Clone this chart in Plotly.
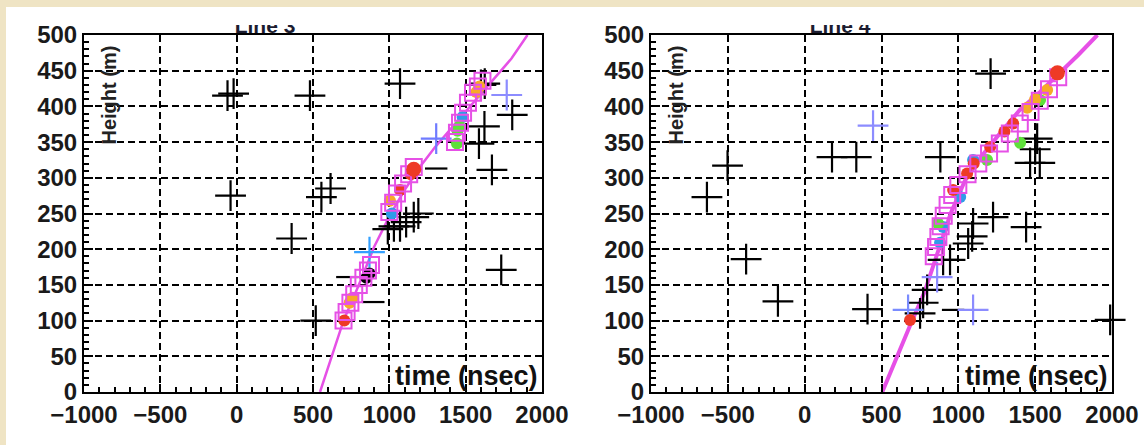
import plotly.graph_objects as go

W, H = 1144, 445

# ---------------- Data: Line 3 (left panel) ----------------
noise_t3 = [-60, -20, 480, 1070, -40, 555, 615, 360, 518, 1733, 1672, 1623, 1805, 1587, 1600, 1625,
            990, 1030, 1070, 1110, 1160, 1190]
noise_h3 = [415, 418, 415, 432, 275, 273, 285, 215, 100, 171, 311, 372, 388, 348, 430, 432,
            228, 232, 232, 238, 245, 250]
dash_t3 = [1307, 895, 725]
dash_h3 = [313, 126, 161]
blue_t3 = [870, 1307, 1769]
blue_h3 = [196, 355, 416]
blue_c3 = ["#33a0ff", "#6f7bff", "#8c8cff"]
sq_t3 = [700, 720, 745, 770, 800, 830, 860, 880, 1000, 1025, 1050, 1090, 1130, 1160,
         1430, 1443, 1463, 1483, 1515, 1548, 1580, 1610]
sq_h3 = [100, 112, 125, 137, 150, 160, 170, 178, 252, 265, 278, 292, 305, 315,
         350, 363, 377, 391, 405, 419, 428, 436]
red_t3 = [705, 1070, 1140, 1160]
red_h3 = [100, 283, 305, 312]
orange_t3 = [740, 760, 1004, 1570, 1590]
orange_h3 = [125, 132, 268, 420, 428]
green_t3 = [1443, 1447, 1460]
green_h3 = [348, 366, 372]
cblue_t3 = [1017, 1480]
cblue_h3 = [250, 385]
black_t3 = [850, 870]
black_h3 = [160, 166]
fit_t3 = [546, 700, 800, 900, 1000, 1100, 1200, 1300, 1400, 1500, 1600, 1700, 1800, 1905]
fit_h3 = [0, 100, 150, 203, 246, 283, 315, 343, 368, 393, 418, 443, 467, 500]

# ---------------- Data: Line 4 (right panel) ----------------
noise_t4 = [-636, -502, -381, -174, 178, 336, 409, 883, 1210, 1441, 1467, 1530, 1500, 1513,
            1096, 1226, 1064, 1090, 901, 946, 797, 771, 751, 1988]
noise_h4 = [273, 317, 186, 127, 329, 329, 116, 329, 446, 231, 321, 321, 340, 355,
            236, 245, 208, 218, 185, 185, 143, 125, 110, 101]
dash_t4 = [966]
dash_h4 = [115]
blue_t4 = [445, 1096, 862, 673]
blue_h4 = [373, 115, 161, 115]
blue_c4 = ["#8c8cff", "#8c8cff", "#8c8cff", "#7a8cff"]
sq_t4 = [840, 855, 870, 885, 905, 930, 960, 1000, 1060, 1130, 1200, 1270, 1335, 1400,
         1470, 1530, 1590, 1650]
sq_h4 = [190, 203, 217, 232, 247, 262, 276, 290, 305, 320, 334, 348, 362, 376,
         392, 408, 424, 441]
red_t4 = [686, 966, 1057, 1100, 1207, 1300, 1357, 1645]
red_h4 = [101, 283, 306, 320, 343, 365, 376, 447]
orange_t4 = [1448, 1500, 1578]
orange_h4 = [398, 410, 423]
green_t4 = [868, 1187, 1402, 1532]
green_h4 = [236, 325, 349, 409]
cblue_t4 = [881, 901, 1012, 1096]
cblue_h4 = [209, 231, 273, 325]
fit_t4 = [505, 600, 686, 780, 850, 950, 1045, 1150, 1270, 1400, 1530, 1650, 1780, 1905]
fit_h4 = [0, 50, 93, 140, 185, 250, 297, 330, 362, 395, 420, 445, 472, 500]

titles = ["Line 3", "Line 4"]
x_range = [-1000, 2000]
y_range = [0, 500]
x_tick_step = 500
y_tick_step = 50

MAG = "#e650e6"
FONT = "Liberation Sans"

panels = [
    dict(xd=(84, 542), td=(222, 308), nt=noise_t3, nh=noise_h3, dt=dash_t3, dh=dash_h3,
         bt=blue_t3, bh=blue_h3, bc=blue_c3, st=sq_t3, sh=sq_h3,
         rt=red_t3, rh=red_h3, ot=orange_t3, oh=orange_h3, gt=green_t3, gh=green_h3,
         ct=cblue_t3, ch=cblue_h3, kt=black_t3, kh=black_h3, ft=fit_t3, fh=fit_h3, fw=2.5),
    dict(xd=(651, 1112), td=(797, 883), nt=noise_t4, nh=noise_h4, dt=dash_t4, dh=dash_h4,
         bt=blue_t4, bh=blue_h4, bc=blue_c4, st=sq_t4, sh=sq_h4,
         rt=red_t4, rh=red_h4, ot=orange_t4, oh=orange_h4, gt=green_t4, gh=green_h4,
         ct=cblue_t4, ch=cblue_h4, kt=[], kh=[], ft=fit_t4, fh=fit_h4, fw=4),
]

fig = go.Figure()
Y_TOP, Y_BOT = 35, 392
annotations = []
layout_axes = {}

axis_common = dict(showline=True, linecolor="black", linewidth=2, mirror=True,
                   showgrid=True, gridcolor="black", gridwidth=1.8, griddash="7px,4px",
                   zeroline=False, ticks="inside", tickcolor="black", tickwidth=2,
                   automargin=False, fixedrange=True,
                   tickfont=dict(family=FONT, size=24, color="#1a1a1a", weight="bold"))

for i, p in enumerate(panels):
    n = 2 * i + 1
    xa, ya = ("x", "y") if n == 1 else ("x%d" % n, "y%d" % n)
    ta, tya = "x%d" % (n + 1), "y%d" % (n + 1)
    fig.add_trace(go.Scatter(x=p["ft"], y=p["fh"], mode="lines",
                             line=dict(color=MAG, width=p["fw"]), xaxis=xa, yaxis=ya))
    fig.add_trace(go.Scatter(x=p["nt"], y=p["nh"], mode="markers", cliponaxis=False,
                             marker=dict(symbol="cross-thin", size=22, color="black",
                                         line=dict(color="black", width=2.2)),
                             xaxis=xa, yaxis=ya))
    fig.add_trace(go.Scatter(x=p["dt"], y=p["dh"], mode="markers",
                             marker=dict(symbol="line-ew", size=16, color="black",
                                         line=dict(color="black", width=2.2)),
                             xaxis=xa, yaxis=ya))
    fig.add_trace(go.Scatter(x=p["bt"], y=p["bh"], mode="markers",
                             marker=dict(symbol="cross-thin", size=22, color=p["bc"],
                                         line=dict(color=p["bc"], width=2.2)),
                             xaxis=xa, yaxis=ya))
    for tt, hh, col in [(p["ct"], p["ch"], "#2f9be8"), (p["gt"], p["gh"], "#5ee03a"),
                        (p["ot"], p["oh"], "#f7a928"), (p["kt"], p["kh"], "black"),
                        (p["rt"], p["rh"], "#ee3a26")]:
        if tt:
            fig.add_trace(go.Scatter(x=tt, y=hh, mode="markers",
                                     marker=dict(symbol="circle", size=12, color=col),
                                     xaxis=xa, yaxis=ya))
    fig.add_trace(go.Scatter(x=p["st"], y=p["sh"], mode="markers",
                             marker=dict(symbol="square-open", size=16, color=MAG,
                                         line=dict(color=MAG, width=2)),
                             xaxis=xa, yaxis=ya))
    fig.add_trace(go.Scatter(x=[p["rt"][-1]], y=[p["rh"][-1]], mode="markers",
                             marker=dict(symbol="circle", size=15, color="#ee3a26"),
                             xaxis=xa, yaxis=ya))
    # title, clipped at its top like the reference (small text subplot)
    fig.add_trace(go.Scatter(x=[0.5], y=[0.7], mode="text", text=["<b>%s</b>" % titles[i]],
                             textposition="middle center", cliponaxis=True,
                             textfont=dict(family=FONT, size=21, color="#1c1c30"),
                             xaxis=ta, yaxis=tya))

    x0, x1 = p["xd"]
    t0, t1 = p["td"]
    xkey = "xaxis" if n == 1 else "xaxis%d" % n
    ykey = "yaxis" if n == 1 else "yaxis%d" % n
    layout_axes[xkey] = dict(axis_common, domain=[x0 / W, x1 / W], range=x_range,
                             tickmode="linear", tick0=x_range[0], dtick=x_tick_step, ticklen=8,
                             minor=dict(ticks="inside", dtick=100, ticklen=5, tickcolor="black",
                                        tickwidth=1.5, showgrid=False),
                             anchor=ya)
    layout_axes[ykey] = dict(axis_common, domain=[1 - Y_BOT / H, 1 - Y_TOP / H], range=y_range,
                             tickmode="linear", tick0=0, dtick=y_tick_step, ticklen=9,
                             minor=dict(ticks="inside", dtick=10, ticklen=5, tickcolor="black",
                                        tickwidth=1.5, showgrid=False),
                             anchor=xa)
    layout_axes["xaxis%d" % (n + 1)] = dict(domain=[t0 / W, t1 / W], range=[0, 1], visible=False,
                                           fixedrange=True, automargin=False, anchor=tya)
    layout_axes["yaxis%d" % (n + 1)] = dict(domain=[1 - 35 / H, 1 - 25 / H], range=[0, 1],
                                           visible=False, fixedrange=True, automargin=False,
                                           anchor=ta)

    annotations.append(dict(text="<b>Height (m)</b>", textangle=-90, x=(x0 + 24) / W,
                            y=1 - 44 / H, xref="paper", yref="paper", yanchor="top",
                            xanchor="center", showarrow=False,
                            font=dict(family=FONT, size=20, color="#222")))
    annotations.append(dict(text="time (nsec)", x=(x1 - 2) / W, y=1 - 376 / H,
                            xref="paper", yref="paper", xanchor="right", yanchor="middle",
                            showarrow=False,
                            font=dict(family=FONT, size=27, color="#111", weight="bold")))

fig.update_layout(
    template="none",
    width=W, height=H, margin=dict(l=0, r=0, t=0, b=0, pad=0),
    paper_bgcolor="#efe4c4", plot_bgcolor="rgba(0,0,0,0)", showlegend=False,
    annotations=annotations,
    shapes=[dict(type="rect", xref="paper", yref="paper", x0=6 / W, x1=1.0,
                 y0=0, y1=1 - 7 / H, fillcolor="white", line=dict(width=0), layer="below")],
    **layout_axes,
)

fig.write_html("out.html", config={"displayModeBar": False},
               post_script="document.body.style.margin='0';document.body.style.overflow='hidden';")
